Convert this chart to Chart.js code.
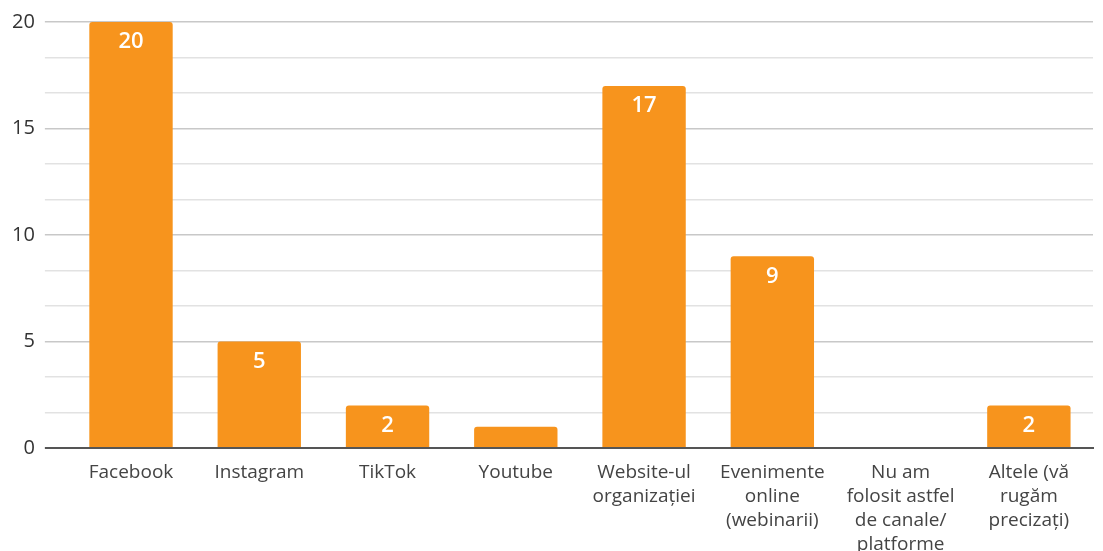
<!DOCTYPE html>
<html lang="ro">
<head>
  <meta charset="UTF-8">
  <title>Canale</title>
  <script src="https://cdn.jsdelivr.net/npm/chart.js"></script>
  <style>
    html, body { margin: 0; padding: 0; background: #fff; }
    #wrap { width: 1103px; height: 551px; }
  </style>
</head>
<body>
  <div id="wrap"><canvas id="chart"></canvas></div>
  <script>
    const categories = [
      'Facebook',
      'Instagram',
      'TikTok',
      'Youtube',
      ['Website-ul', 'organizației'],
      ['Evenimente', 'online', '(webinarii)'],
      ['Nu am', 'folosit astfel', 'de canale/', 'platforme'],
      ['Altele (vă', 'rugăm', 'precizați)']
    ];
    const values = [20, 5, 2, 1, 17, 9, 0, 2];
    const majorTicks = [0, 5, 10, 15, 20];

    // white value labels inside the bar tops (too short bars get none)
    const barLabels = {
      id: 'barLabels',
      afterDatasetsDraw(chart) {
        const ctx = chart.ctx;
        const meta = chart.getDatasetMeta(0);
        ctx.save();
        ctx.fillStyle = '#fff';
        ctx.font = '600 22px "Open Sans"';
        ctx.textAlign = 'center';
        ctx.textBaseline = 'middle';
        meta.data.forEach((bar, i) => {
          if (values[i] < 2) return;
          ctx.fillText(values[i], bar.x, bar.y + 20);
        });
        ctx.restore();
      }
    };

    new Chart(document.getElementById('chart'), {
      type: 'bar',
      data: {
        labels: categories,
        datasets: [{
          data: values,
          backgroundColor: '#F7941D',
          borderRadius: { topLeft: 3, topRight: 3 },
          borderSkipped: 'bottom',
          categoryPercentage: 1,
          barPercentage: 0.65
        }]
      },
      options: {
        responsive: true,
        maintainAspectRatio: false,
        animation: false,
        layout: { padding: { top: 22, left: 2, right: 10, bottom: -10 } },
        plugins: { legend: { display: false }, tooltip: { enabled: false } },
        scales: {
          x: {
            grid: { display: false },
            border: { color: '#555', width: 2 },
            ticks: {
              color: '#444',
              font: { family: 'Open Sans', size: 19, lineHeight: 1.25 },
              padding: 5,
              maxRotation: 0,
              autoSkip: false
            }
          },
          y: {
            min: 0,
            max: 20,
            border: { display: false },
            grid: {
              color: c => c.tick.value === 0 ? '#555' :
                (majorTicks.includes(Math.round(c.tick.value * 100) / 100) ? '#c8c8c8' : '#e2e2e2'),
              lineWidth: c => c.tick.value === 0 ? 2 : 1.5,
              tickLength: 22
            },
            ticks: {
              stepSize: 5 / 3,
              color: '#333',
              padding: 10,
              font: { family: 'Open Sans', size: 20 },
              callback: v => {
                const r = Math.round(v * 100) / 100;
                return majorTicks.includes(r) ? r : '';
              }
            }
          }
        }
      },
      plugins: [barLabels]
    });
  </script>
</body>
</html>
